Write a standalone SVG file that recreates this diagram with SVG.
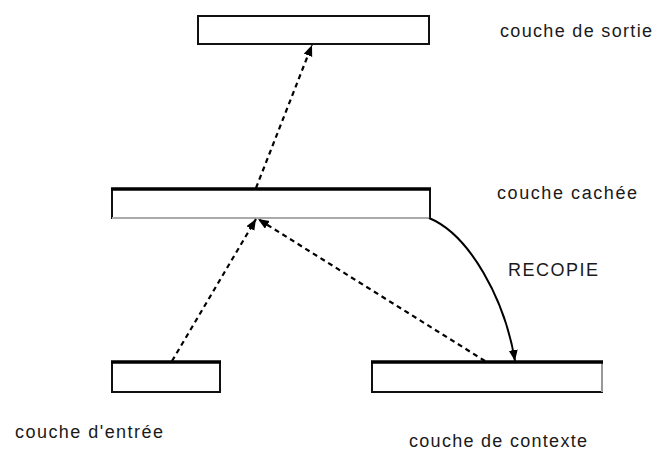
<svg xmlns="http://www.w3.org/2000/svg" width="655" height="450" viewBox="0 0 655 450">
  <style>
    .box { fill: #ffffff; stroke: #111111; stroke-width: 2; }
    .edge-top { stroke: #000000; stroke-width: 3.5; }
    .label { font-family: "Liberation Sans", Arial, sans-serif; font-size: 18px; fill: #1a1a1a; }
    .dash { fill: none; stroke: #000000; stroke-width: 2.2; stroke-dasharray: 5 4; }
    .solid { fill: none; stroke: #000000; stroke-width: 2; }
  </style>
  <defs>
    <marker id="head" markerUnits="userSpaceOnUse" markerWidth="12" markerHeight="10" refX="11" refY="4.5" orient="auto">
      <path d="M0,0 L11,4.5 L0,9 Z" fill="#000000"/>
    </marker>
  </defs>

  <rect width="655" height="450" fill="#ffffff"/>

  <!-- output layer -->
  <g id="sortie">
    <rect class="box" x="198" y="16" width="231" height="28"/>
    <text class="label" x="500" y="37" textLength="152" lengthAdjust="spacing">couche de sortie</text>
  </g>

  <!-- hidden layer -->
  <g id="cachee">
    <rect class="box" x="112" y="189" width="318" height="29"/>
    <line x1="112" y1="218" x2="430" y2="218" stroke="#aaaaaa" stroke-width="2"/>
    <line class="edge-top" x1="111" y1="189" x2="431" y2="189"/>
    <text class="label" x="497" y="199" textLength="140" lengthAdjust="spacing">couche cachée</text>
  </g>

  <!-- input layer -->
  <g id="entree">
    <rect class="box" x="112" y="362" width="108" height="30"/>
    <line class="edge-top" x1="111" y1="362" x2="221" y2="362"/>
    <text class="label" x="15" y="438" textLength="148" lengthAdjust="spacing">couche d'entrée</text>
  </g>

  <!-- context layer -->
  <g id="contexte">
    <rect class="box" x="372" y="362" width="230" height="30"/>
    <line x1="602" y1="362" x2="602" y2="392" stroke="#999999" stroke-width="2"/>
    <line class="edge-top" x1="371" y1="362" x2="603" y2="362"/>
    <text class="label" x="409" y="447" textLength="178" lengthAdjust="spacing">couche de contexte</text>
  </g>

  <!-- copy label -->
  <g id="recopie">
    <text class="label" x="508" y="276" textLength="90" lengthAdjust="spacing">RECOPIE</text>
  </g>

  <!-- connectors -->
  <g id="connectors">
    <line class="dash" x1="256" y1="188" x2="312" y2="45" marker-end="url(#head)"/>
    <line class="dash" x1="172" y1="361" x2="256" y2="219" marker-end="url(#head)"/>
    <line class="dash" x1="485" y1="361" x2="258" y2="219" marker-end="url(#head)"/>
    <path class="solid" d="M429,218 C470,235 505,300 515,361" marker-end="url(#head)"/>
  </g>
</svg>
